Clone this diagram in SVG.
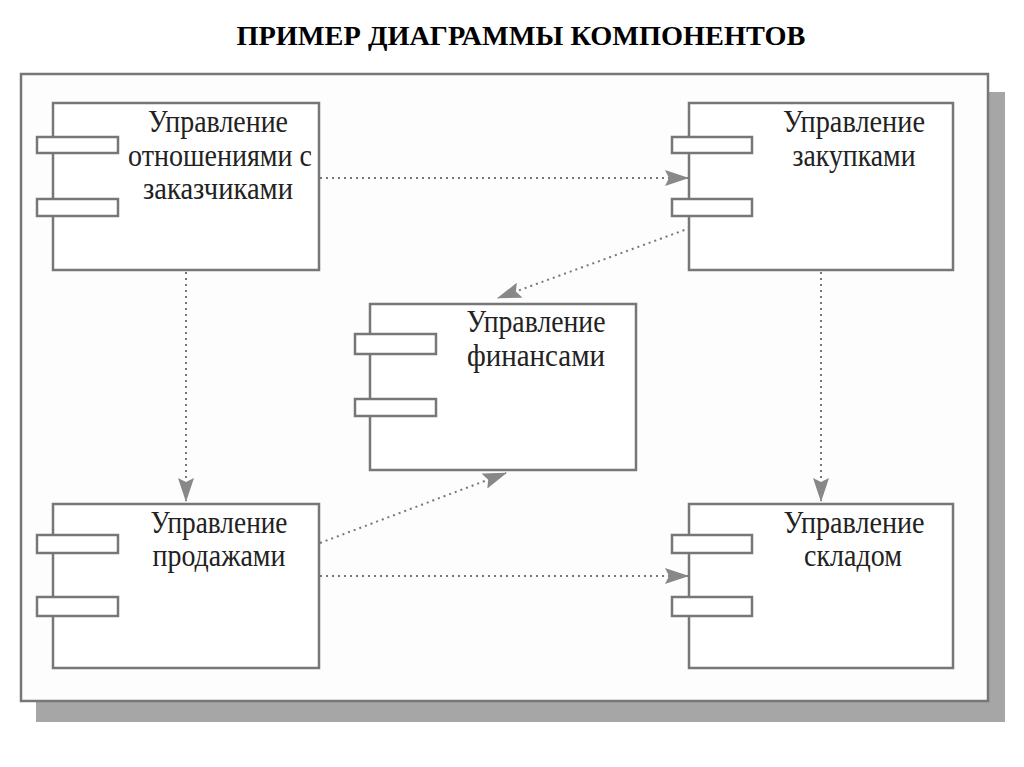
<svg xmlns="http://www.w3.org/2000/svg" width="1024" height="767" viewBox="0 0 1024 767">
<defs>
<style>
.box{fill:#fff;stroke:#777;stroke-width:2.5}
.tab{fill:#fff;stroke:#777;stroke-width:2.5}
.lbl{font-family:"Liberation Serif","Times New Roman",serif;font-size:31px;fill:#222;text-anchor:middle}
.con{fill:none;stroke:#777;stroke-width:2;stroke-dasharray:2 4}
.title{font-family:"Liberation Serif","Times New Roman",serif;font-size:27px;font-weight:bold;fill:#000;text-anchor:middle}
</style>
<marker id="arr" viewBox="0 0 24 16" refX="23" refY="8" markerWidth="24" markerHeight="16" markerUnits="userSpaceOnUse" orient="auto">
<path d="M0,0 L24,8 L0,16 L4,8 Z" fill="#888"/>
</marker>
</defs>
<rect width="1024" height="767" fill="#fff"/>
<text class="title" x="521" y="45" textLength="569" lengthAdjust="spacingAndGlyphs">ПРИМЕР ДИАГРАММЫ КОМПОНЕНТОВ</text>
<rect x="36" y="92" width="969" height="630" fill="#a6a6a6"/>
<rect x="21" y="74" width="967" height="627" fill="#fdfdfd" stroke="#777" stroke-width="2.5"/>
<g id="connectors">
<line class="con" x1="320" y1="178" x2="688" y2="178" marker-end="url(#arr)"/>
<line class="con" x1="690" y1="228" x2="498" y2="298" marker-end="url(#arr)"/>
<line class="con" x1="186" y1="272" x2="186" y2="501" marker-end="url(#arr)"/>
<line class="con" x1="320" y1="543" x2="506" y2="473" marker-end="url(#arr)"/>
<line class="con" x1="320" y1="576" x2="688" y2="576" marker-end="url(#arr)"/>
<line class="con" x1="821" y1="272" x2="821" y2="501" marker-end="url(#arr)"/>
</g>
<g id="crm">
<rect class="box" x="53" y="103" width="266" height="167"/>
<rect class="tab" x="37" y="137" width="81" height="16"/>
<rect class="tab" x="37" y="199" width="81" height="17"/>
<text class="lbl" x="218" y="132" textLength="140" lengthAdjust="spacingAndGlyphs">Управление</text>
<text class="lbl" x="220" y="166" textLength="184" lengthAdjust="spacingAndGlyphs">отношениями с</text>
<text class="lbl" x="218" y="199" textLength="150" lengthAdjust="spacingAndGlyphs">заказчиками</text>
</g>
<g id="purchases">
<rect class="box" x="689" y="103" width="264" height="167"/>
<rect class="tab" x="672" y="137" width="80" height="16"/>
<rect class="tab" x="672" y="199" width="80" height="17"/>
<text class="lbl" x="854" y="132" textLength="142" lengthAdjust="spacingAndGlyphs">Управление</text>
<text class="lbl" x="854" y="166" textLength="123" lengthAdjust="spacingAndGlyphs">закупками</text>
</g>
<g id="finance">
<rect class="box" x="370" y="304" width="266" height="166"/>
<rect class="tab" x="355" y="334" width="81" height="20"/>
<rect class="tab" x="355" y="399" width="81" height="17"/>
<text class="lbl" x="536" y="332" textLength="139" lengthAdjust="spacingAndGlyphs">Управление</text>
<text class="lbl" x="536" y="366" textLength="138" lengthAdjust="spacingAndGlyphs">финансами</text>
</g>
<g id="sales">
<rect class="box" x="53" y="504" width="266" height="164"/>
<rect class="tab" x="37" y="535" width="81" height="18"/>
<rect class="tab" x="37" y="597" width="81" height="19"/>
<text class="lbl" x="219" y="533" textLength="137" lengthAdjust="spacingAndGlyphs">Управление</text>
<text class="lbl" x="219" y="566" textLength="133" lengthAdjust="spacingAndGlyphs">продажами</text>
</g>
<g id="warehouse">
<rect class="box" x="689" y="504" width="264" height="164"/>
<rect class="tab" x="672" y="535" width="80" height="18"/>
<rect class="tab" x="672" y="597" width="80" height="19"/>
<text class="lbl" x="854" y="533" textLength="141" lengthAdjust="spacingAndGlyphs">Управление</text>
<text class="lbl" x="853" y="566" textLength="98" lengthAdjust="spacingAndGlyphs">складом</text>
</g>
</svg>
